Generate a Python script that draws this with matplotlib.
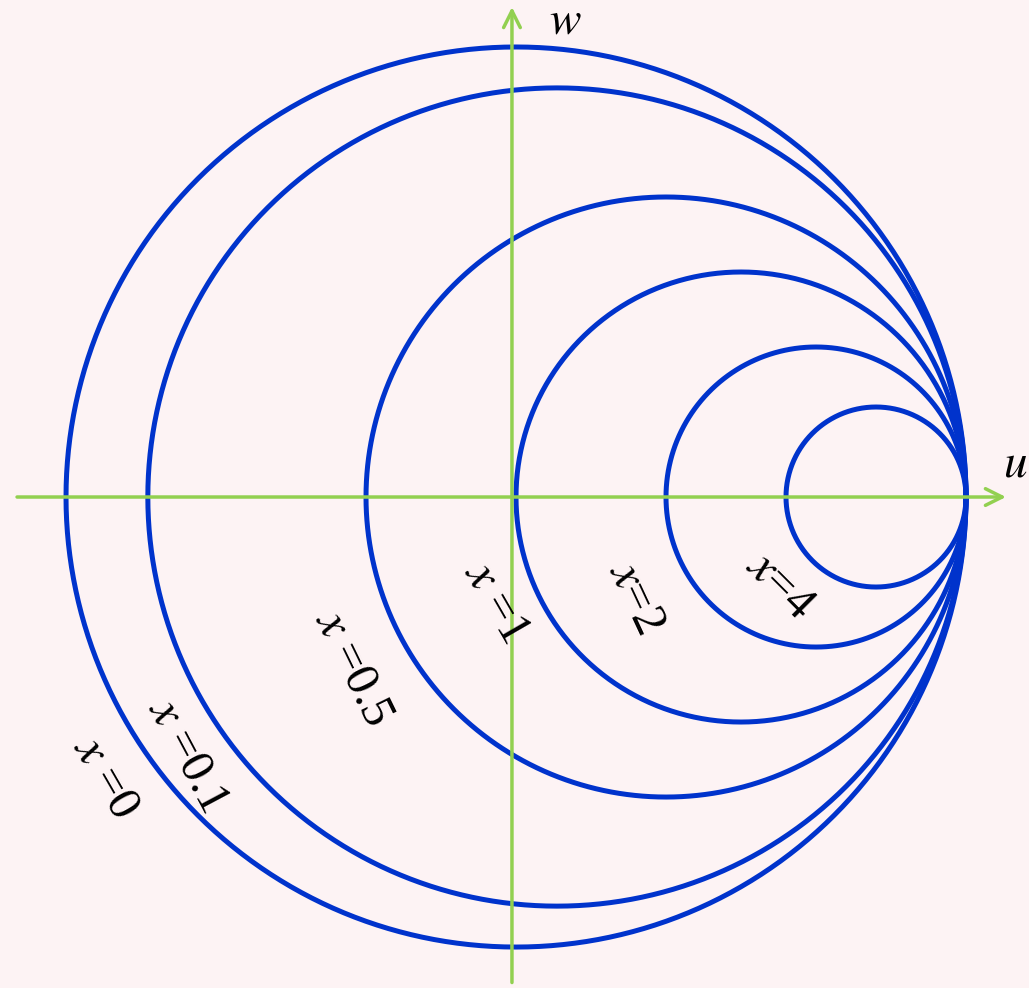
import numpy as np
import matplotlib.pyplot as plt

plt.rcParams['mathtext.fontset'] = 'stix'
plt.rcParams['font.family'] = ['Liberation Serif', 'DejaVu Serif']

# resistance values of the circles
r_vals = [0, 0.1, 0.5, 1, 2, 4]
labels = ['$x$ =0', '$x$ =0.1', '$x$ =0.5', '$x$ =1', '$x$=2', '$x$=4']
label_pos = [(-0.913, -0.624), (-0.731, -0.573), (-0.362, -0.380),
             (-0.044, -0.233), (0.267, -0.224), (0.587, -0.196)]
label_rot = [-60, -62, -64, -60, -65, -45]

fig = plt.figure(figsize=(10.29, 9.88), dpi=100)
fig.patch.set_facecolor('#fdf3f4')
ax = fig.add_axes([0, 0, 1, 1])
ax.set_facecolor('#fdf3f4')

# green axes with arrows
green = '#92d050'
ax.annotate('', xy=(1.095, 0), xytext=(-1.115, 0),
            arrowprops=dict(arrowstyle='->', color=green, lw=2.5, mutation_scale=30))
ax.annotate('', xy=(-0.009, 1.095), xytext=(-0.009, -1.085),
            arrowprops=dict(arrowstyle='->', color=green, lw=2.5, mutation_scale=30))

# circles
t = np.linspace(0, 2 * np.pi, 721)
for r in r_vals:
    c = r / (1 + r)
    rad = 1 / (1 + r)
    ax.plot(c + rad * np.cos(t), rad * np.sin(t), color='#0033cc', lw=3.6)

for lab, (px, py), rot in zip(labels, label_pos, label_rot):
    ax.text(px, py, lab, fontsize=35, rotation=rot, ha='center', va='center',
            rotation_mode='anchor')

ax.text(0.109, 1.056, '$w$', fontsize=34, ha='center', va='center')
ax.text(1.109, 0.071, '$u$', fontsize=34, ha='center', va='center')

ax.set_xlim(-1.1467, 1.14)
ax.set_ylim(-1.091, 1.1044)
ax.axis('off')

fig.savefig('out.png', dpi=100, facecolor=fig.get_facecolor())
